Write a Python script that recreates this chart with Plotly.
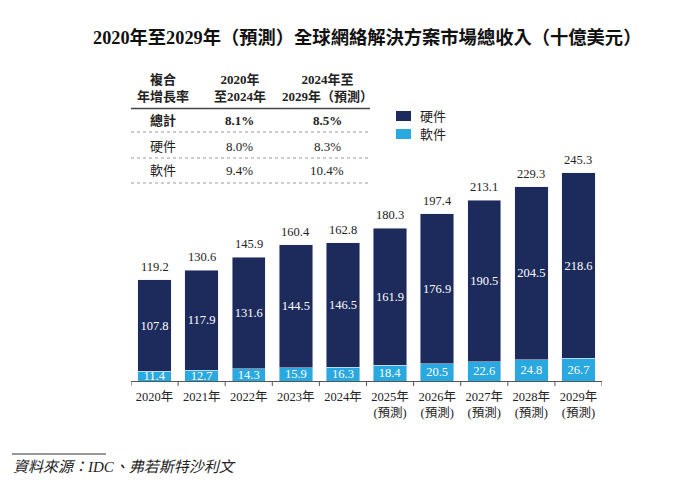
import plotly.graph_objects as go

years = ["2020年", "2021年", "2022年", "2023年", "2024年",
         "2025年<br>(預測)", "2026年<br>(預測)", "2027年<br>(預測)", "2028年<br>(預測)", "2029年<br>(預測)"]
hardware = [107.8, 117.9, 131.6, 144.5, 146.5, 161.9, 176.9, 190.5, 204.5, 218.6]
software = [11.4, 12.7, 14.3, 15.9, 16.3, 18.4, 20.5, 22.6, 24.8, 26.7]
totals = [119.2, 130.6, 145.9, 160.4, 162.8, 180.3, 197.4, 213.1, 229.3, 245.3]

table_header = ["複合<br>年增長率", "2020年<br>至2024年", "2024年至<br>2029年（預測）"]
table_rows = [["總計", "8.1%", "8.5%"], ["硬件", "8.0%", "8.3%"], ["軟件", "9.4%", "10.4%"]]

DARK = "#1d2b5c"
LIGHT = "#2aa8e0"
FONT = "Liberation Serif, Noto Sans CJK TC"
TXT = "#222222"

W, H = 700, 488
OFF = 8  # page body margin
def px(x): return (x - OFF) / W
def py(y): return 1 - (y - OFF) / H

x_idx = list(range(len(years)))

fig = go.Figure()
fig.add_bar(x=x_idx, y=software, name="軟件", marker_color=LIGHT,
            text=[f"{v:.1f}" for v in software], textposition="inside",
            insidetextanchor="middle", textangle=0,
            textfont=dict(color="white", size=12.5, family=FONT))
fig.add_bar(x=x_idx, y=hardware, name="硬件", marker_color=DARK,
            text=[f"{v:.1f}" for v in hardware], textposition="inside",
            insidetextanchor="middle", textangle=0,
            textfont=dict(color="white", size=12.5, family=FONT))

annotations = []
for i, t in enumerate(totals):
    annotations.append(dict(x=i, y=t, xref="x", yref="y", text=f"{t:.1f}", showarrow=False,
                            yanchor="middle", yshift=13,
                            font=dict(size=12.5, color=TXT, family=FONT)))

def ann(x, y, text, size, xanchor="center", color=TXT):
    annotations.append(dict(x=px(x), y=py(y), xref="paper", yref="paper", text=text,
                            xanchor=xanchor, yanchor="middle", showarrow=False,
                            font=dict(size=size, color=color, family=FONT)))

# title
ann(367, 37, "<b>2020年至2029年（預測）全球網絡解決方案市場總收入（十億美元）</b>", 18.3, color="#111111")

# table
col_x = [163, 240, 327]
for cx, h in zip(col_x, table_header):
    ann(cx, 88, f"<b>{h}</b>", 13)
row_y = [120, 146, 170]
for r, (ry, row) in enumerate(zip(row_y, table_rows)):
    for cx, cell in zip(col_x, row):
        ann(cx, ry, f"<b>{cell}</b>" if r == 0 else cell, 13)

# legend
for ly, name in [(116, "硬件"), (134, "軟件")]:
    ann(418, ly, name, 13, xanchor="left")

# source
ann(11, 467, "<i>資料來源：IDC、弗若斯特沙利文</i>", 15, xanchor="left")

shapes = []
def hline(x0, x1, y, color, width, dash="solid"):
    shapes.append(dict(type="line", xref="paper", yref="paper", x0=px(x0), x1=px(x1),
                       y0=py(y), y1=py(y), line=dict(color=color, width=width, dash=dash)))

hline(131, 370, 108.5, "#444444", 1.5)
for dy in [132, 158, 183]:
    hline(131, 370, dy, "#999999", 1, "dot")
for ly, col in [(116, DARK), (134, LIGHT)]:
    shapes.append(dict(type="rect", xref="paper", yref="paper", x0=px(396), x1=px(411),
                       y0=py(ly - 5), y1=py(ly + 5), fillcolor=col, line=dict(width=0)))
hline(12, 106, 454, "#333333", 1)
for b in range(len(years) + 1):
    shapes.append(dict(type="line", xref="x", yref="paper", x0=b - 0.5, x1=b - 0.5,
                       y0=py(381), y1=py(386), line=dict(color="#555555", width=1)))

fig.update_layout(
    width=W, height=H, barmode="stack", bargap=0.29,
    margin=dict(l=0, r=0, t=0, b=0, autoexpand=False),
    paper_bgcolor="white", plot_bgcolor="white",
    showlegend=False,
    uniformtext=dict(minsize=12.5, mode="show"),
    annotations=annotations, shapes=shapes,
    font=dict(family=FONT, color=TXT),
    xaxis=dict(domain=[px(131), px(602)], range=[-0.5, 9.5], tickmode="array",
               tickvals=x_idx, ticktext=years, showgrid=False, zeroline=False,
               showline=True, linecolor="#555555", linewidth=1, automargin=False,
               ticks="", ticklabelstandoff=4,
               tickfont=dict(size=12.5, color=TXT, family=FONT)),
    yaxis=dict(domain=[py(381), 1], range=[0, (381 - OFF) / 0.848], visible=False,
               showgrid=False, zeroline=False, automargin=False),
)

fig.write_html("out.html")
